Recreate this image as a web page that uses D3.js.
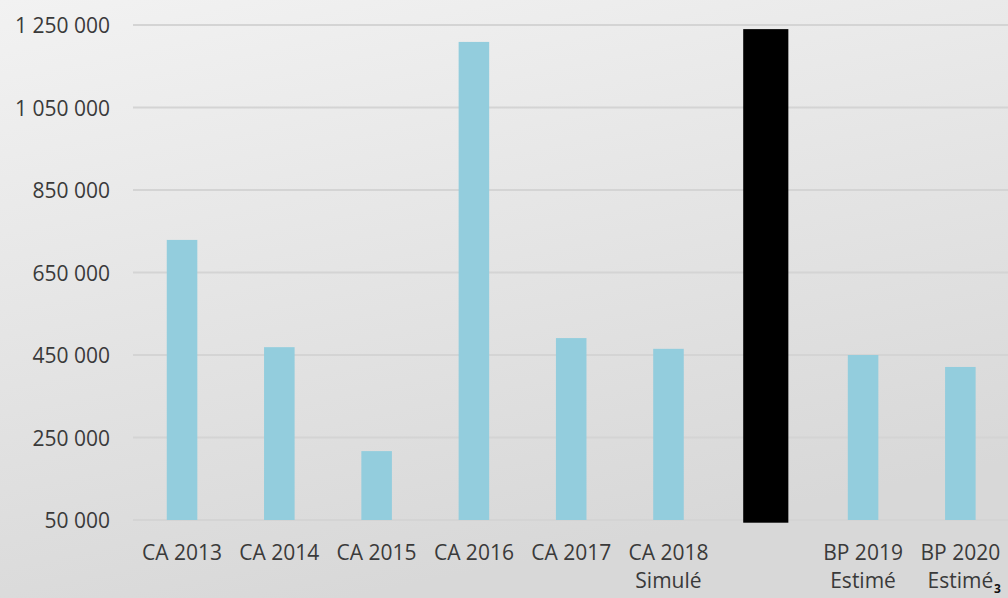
<!DOCTYPE html>
<html><head><meta charset="utf-8">
<script src="https://cdn.jsdelivr.net/npm/d3@7"></script>
<style>html,body{margin:0;padding:0;overflow:hidden;background:#e6e6e6}</style>
</head><body>
<svg id="chart" width="1008" height="598"></svg>
<script>
const categories = ["CA 2013","CA 2014","CA 2015","CA 2016","CA 2017","CA 2018\nSimulé","","BP 2019\nEstimé","BP 2020\nEstimé"];
const values = [729000, 469000, 217000, 1209000, 491000, 465000, 1240000, 450000, 421000];
const highlight = [false,false,false,false,false,false,true,false,false];
const yTicks = [50000, 250000, 450000, 650000, 850000, 1050000, 1250000];

const W = 1008, H = 598;
const svg = d3.select("#chart");
const defs = svg.append("defs");
const g1 = defs.append("linearGradient").attr("id","bg").attr("x1",0).attr("y1",0).attr("x2",0.35).attr("y2",1);
g1.append("stop").attr("offset","0%").attr("stop-color","#f2f2f2");
g1.append("stop").attr("offset","100%").attr("stop-color","#d8d8d8");
svg.append("rect").attr("width",W).attr("height",H).attr("fill","url(#bg)");

const x = d3.scaleBand().domain(d3.range(categories.length)).range([133.4, 1009]).padding(0);
const y = d3.scaleLinear().domain([50000, 1250000]).range([520, 25]);
const fmt = v => d3.format(",")(v).replace(/,/g, " ");

// gridlines
svg.append("g").selectAll("line").data(yTicks).join("line")
  .attr("x1", 133).attr("x2", W)
  .attr("y1", d => y(d)).attr("y2", d => y(d))
  .attr("stroke", "#d4d4d4").attr("stroke-width", 2);

// y axis labels
const yAxis = d3.axisLeft(y).tickValues(yTicks).tickFormat(fmt).tickSize(0).tickPadding(0);
const ya = svg.append("g").attr("transform","translate(110,0)").call(yAxis);
ya.select(".domain").remove();
ya.selectAll("text").attr("font-family","'Open Sans', sans-serif").attr("font-size","21px").attr("fill","#3a3a3a").attr("dy","0.36em");

// bars
const step = x.step();
svg.append("g").selectAll("rect").data(values).join("rect")
  .attr("x", (d,i) => x(i) + step/2 - (highlight[i] ? step*0.232 : step*0.157))
  .attr("width", (d,i) => highlight[i] ? step*0.464 : step*0.314)
  .attr("y", d => y(d))
  .attr("height", (d,i) => y(50000) - y(d) + (highlight[i] ? 2.7 : 0))
  .attr("fill", (d,i) => highlight[i] ? "#000000" : "#93cddd");

// x labels
const xl = svg.append("g");
categories.forEach((c,i) => {
  const lines = c.split("\n");
  const t = xl.append("text")
    .attr("x", x(i) + step/2).attr("text-anchor","middle")
    .attr("font-family","'Open Sans', sans-serif").attr("font-size","21px").attr("fill","#3a3a3a");
  lines.forEach((l,k) => t.append("tspan").attr("x", x(i) + step/2).attr("y", 560 + k*28).text(l));
});

// page number
svg.append("text").attr("x", 994).attr("y", 593).attr("font-family","'Open Sans', sans-serif")
  .attr("font-weight","bold").attr("font-size","12px").attr("fill","#111").text("3");
</script>
</body></html>
